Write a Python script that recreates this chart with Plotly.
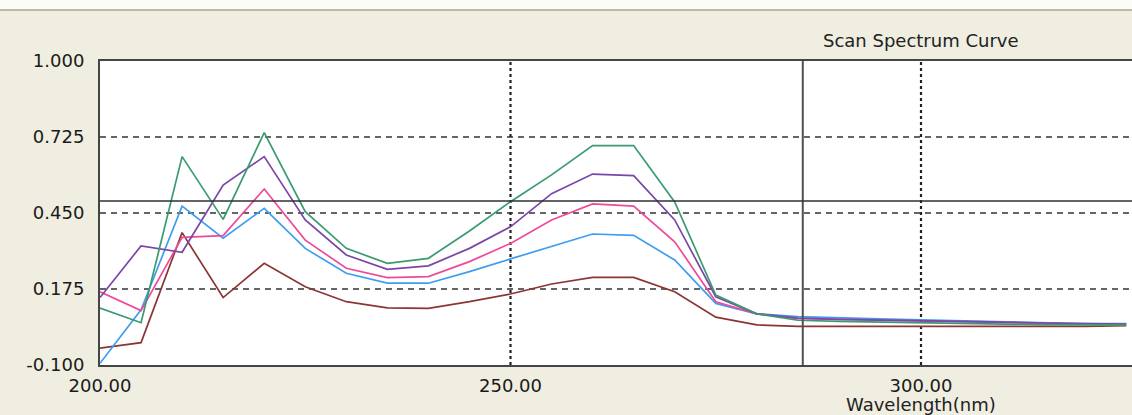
import plotly.graph_objects as go

wavelength = list(range(200, 330, 5))

green = [0.106, 0.053, 0.654, 0.427, 0.741, 0.455, 0.322, 0.268, 0.286, 0.385, 0.491, 0.588, 0.694, 0.694,
         0.490, 0.153, 0.085, 0.062, 0.058, 0.055, 0.052, 0.050, 0.048, 0.046, 0.045, 0.045]
purple = [0.144, 0.331, 0.308, 0.551, 0.654, 0.425, 0.298, 0.246, 0.259, 0.322, 0.400, 0.520, 0.591, 0.585,
          0.425, 0.147, 0.085, 0.070, 0.065, 0.063, 0.060, 0.057, 0.055, 0.052, 0.050, 0.048]
pink = [0.165, 0.097, 0.362, 0.368, 0.537, 0.352, 0.250, 0.216, 0.220, 0.274, 0.340, 0.425, 0.483, 0.475,
        0.346, 0.129, 0.085, 0.068, 0.065, 0.062, 0.058, 0.055, 0.053, 0.050, 0.048, 0.047]
blue = [-0.094, 0.100, 0.475, 0.359, 0.467, 0.322, 0.232, 0.196, 0.196, 0.238, 0.284, 0.330, 0.374, 0.369,
        0.280, 0.123, 0.085, 0.075, 0.070, 0.067, 0.063, 0.060, 0.057, 0.052, 0.050, 0.050]
brown = [-0.039, -0.019, 0.379, 0.144, 0.268, 0.183, 0.129, 0.107, 0.105, 0.129, 0.157, 0.193, 0.217, 0.217,
         0.165, 0.073, 0.045, 0.040, 0.040, 0.040, 0.040, 0.040, 0.040, 0.038, 0.040, 0.042]

y_ticks = [1.000, 0.725, 0.450, 0.175, -0.100]
y_labels = ["1.000", "0.725", "0.450", "0.175", "-0.100"]
x_ticks = [200, 250, 300]
x_labels = ["200.00", "250.00", "300.00"]

cursor_x = 285.6
cursor_y = 0.4935

series = [
    ("brown", brown, "#8b3535"),
    ("blue", blue, "#3d9ef0"),
    ("pink", pink, "#ee4a9a"),
    ("purple", purple, "#7a46a8"),
    ("green", green, "#3a9a70"),
]

font_family = "DejaVu Sans, Verdana, sans-serif"
bg = "#efeee0"

fig = go.Figure()
for name, vals, col in series:
    fig.add_trace(go.Scatter(x=wavelength, y=vals, mode="lines", name=name,
                             line=dict(color=col, width=1.7), showlegend=False, hoverinfo="skip"))

shapes = []
for v in [0.725, 0.450, 0.175]:
    shapes.append(dict(type="line", xref="paper", yref="y", x0=0, x1=1, y0=v, y1=v,
                       line=dict(color="#333333", width=1.5, dash="6px,5px"), layer="below"))
for v in [250, 300]:
    shapes.append(dict(type="line", xref="x", yref="paper", x0=v, x1=v, y0=0, y1=1,
                       line=dict(color="#222222", width=2.2, dash="3px,3px"), layer="below"))
shapes.append(dict(type="line", xref="x", yref="paper", x0=cursor_x, x1=cursor_x, y0=0, y1=1,
                   line=dict(color="#505050", width=2), layer="above"))
shapes.append(dict(type="line", xref="paper", yref="y", x0=0, x1=1, y0=cursor_y, y1=cursor_y,
                   line=dict(color="#303030", width=1.6), layer="above"))
shapes.append(dict(type="rect", xref="paper", yref="paper", x0=-0.12, x1=1.02, y0=1.168, y1=1.25,
                   fillcolor="#fbfbf7", line=dict(width=0), layer="below"))
shapes.append(dict(type="line", xref="paper", yref="paper", x0=-0.12, x1=1.02, y0=1.168, y1=1.168,
                   line=dict(color="#a8a690", width=1.5)))

fig.update_layout(
    width=1132, height=415,
    margin=dict(l=100, r=0, t=61, b=50),
    paper_bgcolor=bg, plot_bgcolor="white",
    font=dict(family=font_family, size=18, color="#1a1a1a"),
    shapes=shapes,
    xaxis=dict(range=[200, 325.7], tickvals=x_ticks, ticktext=x_labels, showgrid=False, zeroline=False,
               showline=True, linecolor="#454545", linewidth=2, mirror=True, ticks="",
               tickfont=dict(size=18, family=font_family), ticklabelstandoff=3),
    yaxis=dict(range=[-0.1, 1.0], tickvals=y_ticks, ticktext=y_labels, showgrid=False, zeroline=False,
               showline=True, linecolor="#454545", linewidth=2, mirror=False, ticks="",
               tickfont=dict(size=18, family=font_family), ticklabelstandoff=10),
    annotations=[
        dict(text="Scan Spectrum Curve", xref="x", yref="paper", x=300, y=1.0 + (61 - 40) / 304,
             showarrow=False, font=dict(size=18, family=font_family, color="#222222"),
             xanchor="center", yanchor="middle"),
        dict(text="Wavelength(nm)", xref="x", yref="paper", x=300, y=-(404 - 365) / 304,
             showarrow=False, font=dict(size=18, family=font_family, color="#222222"),
             xanchor="center", yanchor="middle"),
    ],
)

fig.write_html("out.html", config={"displayModeBar": False},
               post_script="document.body.style.margin='0';document.body.style.overflow='hidden';"
                           "document.body.style.background='" + bg + "';")
